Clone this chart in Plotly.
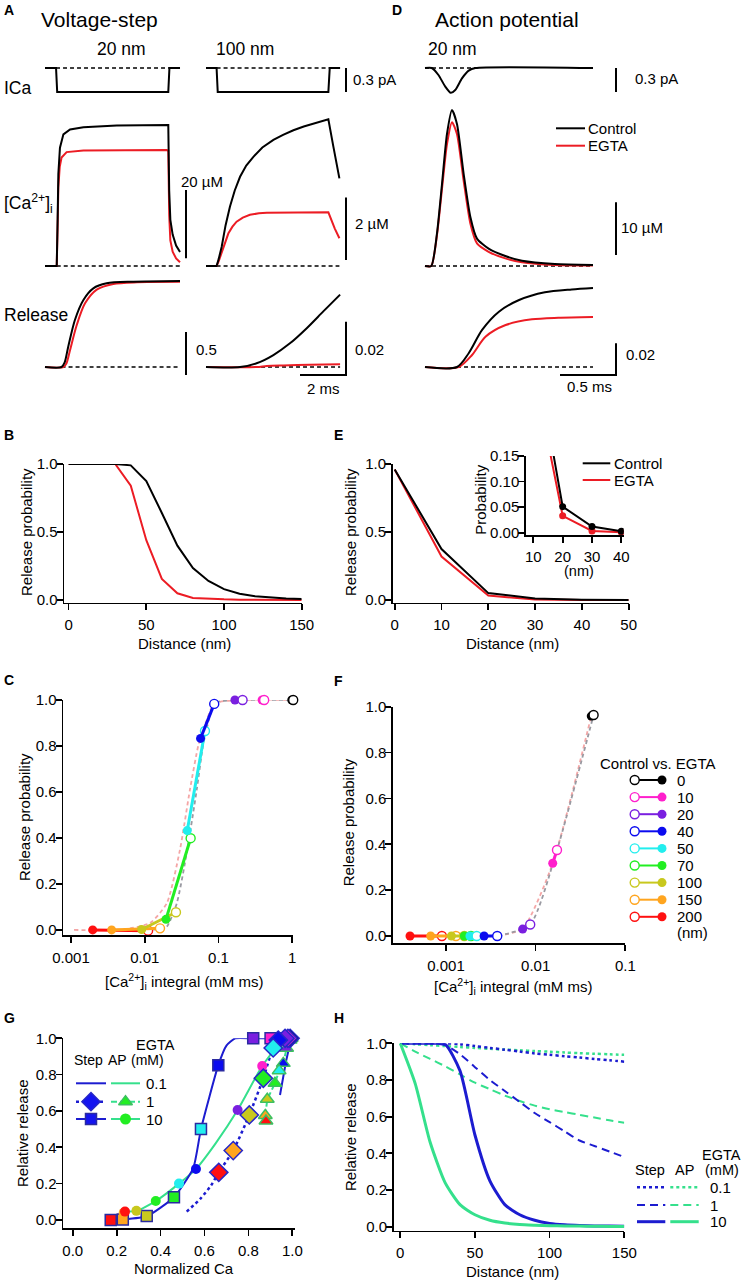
import plotly.graph_objects as go

W, H = 744, 1282
FONT = "Liberation Sans, Arial, Helvetica, sans-serif"
RED = "#ec1c24"
BLUE = "#1c1cd0"
MINT = "#35e08c"

# ===================== DATA =====================
# Panel A (voltage step): ICa (pA), [Ca2+]i (uM), release vs time (ms)
a20_t_ica = [0, 0.48, 0.53, 5.36, 5.41, 5.87]
a20_ica = [0, 0, -0.3, -0.3, 0, 0]
a20_t_ca_ctrl = [0, 0.51, 0.55, 0.58, 0.65, 0.80, 1.09, 1.67, 3.12, 5.29, 5.36, 5.40, 5.45, 5.55, 5.70, 5.87]
a20_ca_ctrl = [0, 0, 14.0, 26.9, 34.6, 38.5, 39.9, 40.6, 41.1, 41.4, 41.2, 22.0, 13.5, 9.2, 6.0, 4.1]
a20_t_ca_egta = [0, 0.51, 0.55, 0.58, 0.64, 0.72, 0.94, 1.67, 5.29, 5.36, 5.40, 5.45, 5.55, 5.70, 5.87]
a20_ca_egta = [0, 0, 12.0, 23.0, 29.0, 31.7, 33.3, 33.8, 33.9, 33.7, 15.0, 7.5, 4.2, 2.2, 1.1]
a20_t_rel_ctrl = [0, 0.72, 0.85, 1.01, 1.30, 1.67, 2.10, 2.68, 3.84, 5.87]
a20_rel_ctrl = [0, 0, 0.05, 0.236, 0.547, 0.78, 0.915, 0.973, 0.992, 1.0]
a20_t_rel_egta = [0, 0.80, 0.93, 1.09, 1.38, 1.74, 2.25, 2.97, 4.00, 5.87]
a20_rel_egta = [0, 0, 0.04, 0.198, 0.488, 0.74, 0.90, 0.965, 0.985, 0.99]

a100_t_ica = [0, 0.46, 0.51, 5.32, 5.38, 5.83]
a100_ica = [0, 0, -0.3, -0.3, 0, 0]
a100_t_ca_ctrl = [0, 0.46, 0.55, 0.68, 0.85, 1.04, 1.25, 1.48, 1.75, 2.06, 2.45, 2.93, 3.35, 3.80, 4.25, 4.67, 5.00, 5.32, 5.54, 5.80]
a100_ca_ctrl = [0, 0, 0.22, 0.61, 1.30, 1.90, 2.42, 2.86, 3.22, 3.50, 3.80, 4.04, 4.20, 4.35, 4.47, 4.57, 4.64, 4.70, 3.82, 2.81]
a100_t_ca_egta = [0, 0.46, 0.55, 0.68, 0.82, 0.97, 1.15, 1.33, 1.60, 1.91, 2.30, 2.64, 5.32, 5.39, 5.60, 5.80]
a100_ca_egta = [0, 0, 0.15, 0.41, 0.74, 1.04, 1.26, 1.42, 1.55, 1.64, 1.69, 1.71, 1.72, 1.58, 1.20, 0.89]
a100_t_rel_ctrl = [0, 1.48, 2.20, 2.93, 3.65, 4.38, 5.10, 5.83]
a100_rel_ctrl = [0, 0, 0.0014, 0.0045, 0.0089, 0.0146, 0.0209, 0.0272]
a100_t_rel_egta = [0, 2.20, 2.64, 3.36, 4.50, 5.83]
a100_rel_egta = [0, 0, 0.0004, 0.0006, 0.0008, 0.0010]

# Panel D (action potential), 20 nm
d_t_ica = [0, 0.06, 0.12, 0.18, 0.23, 0.27, 0.33, 0.39, 0.45, 1.5]
d_ica = [0, 0, -0.0875, -0.23, -0.31, -0.275, -0.13, -0.033, 0, 0]
d_t_ca = [0, 0.056, 0.107, 0.152, 0.196, 0.241, 0.286, 0.345, 0.405, 0.464, 0.568, 0.717, 0.866, 1.16, 1.5]
d_ca_ctrl = [0, 0, 6.2, 15.6, 25.0, 29.6, 26.9, 17.5, 9.3, 5.2, 3.3, 1.9, 1.0, 0.38, 0.19]
d_ca_egta = [0, 0, 5.85, 14.7, 23.1, 27.3, 25.0, 16.2, 8.05, 4.28, 2.7, 1.45, 0.7, 0.19, 0.10]
d_t_rel_ctrl = [0, 0.286, 0.39, 0.51, 0.66, 0.84, 1.07, 1.31, 1.5]
d_rel_ctrl = [0, 0, 0.0087, 0.0234, 0.0349, 0.0423, 0.0472, 0.0490, 0.0499]
d_t_rel_egta = [0, 0.30, 0.42, 0.54, 0.72, 0.955, 1.19, 1.5]
d_rel_egta = [0, 0, 0.0076, 0.0191, 0.0265, 0.0301, 0.0311, 0.0316]

# Scale bar values
sb_ica = 0.3       # pA
sb_ca20 = 20       # uM
sb_ca100 = 2       # uM
sb_cad = 10        # uM
sb_rel20 = 0.5
sb_rel100 = 0.02
sb_reld = 0.02
sb_time_a = 2      # ms
sb_time_d = 0.5    # ms

# Panel B: release probability vs distance (voltage step)
b_dist = [0, 10, 20, 30, 40, 50, 60, 70, 80, 90, 100, 110, 120, 130, 140, 150]
b_ctrl = [1.0, 1.0, 1.0, 1.0, 0.99, 0.875, 0.64, 0.40, 0.235, 0.14, 0.08, 0.047, 0.028, 0.017, 0.011, 0.007]
b_egta = [1.0, 1.0, 1.0, 1.0, 0.84, 0.44, 0.155, 0.05, 0.015, 0.008, 0.005, 0.003, 0.002, 0.001, 0.001, 0.001]

# Panel E: release probability vs distance (AP)
e_dist = [0, 10, 20, 30, 40, 50]
e_ctrl = [0.96, 0.375, 0.051, 0.012, 0.003, 0.001]
e_egta = [0.96, 0.32, 0.033, 0.0035, 0.001, 0.0005]

# Panels C, F: distance categories
dist_labels = ["0", "10", "20", "40", "50", "70", "100", "150", "200"]
dist_colors = ["#000000", "#ff1fcc", "#7a1fe0", "#0b0bef", "#22eeee", "#22ee22", "#c8c81e", "#ffa51f", "#ff1010"]

c_ctrl_x = [1.03, 0.416, 0.212, 0.0875, 0.0655, 0.0419, 0.0265, 0.0161, 0.0111]
c_ctrl_y = [1.0, 1.0, 1.0, 0.983, 0.865, 0.399, 0.077, 0.007, -0.003]
c_egta_x = [0.985, 0.39, 0.167, 0.0571, 0.0377, 0.0194, 0.00908, 0.00356, 0.00197]
c_egta_y = [1.0, 1.0, 1.0, 0.833, 0.432, 0.046, 0.002, 0.0, 0.0]
c_fit_ctrl_x = [0.0105, 0.0165, 0.0199, 0.0272, 0.037, 0.0507, 0.0624, 0.081, 0.095, 1.03]
c_fit_ctrl_y = [0.0, 0.004, 0.014, 0.116, 0.333, 0.61, 0.81, 0.957, 0.99, 1.0]
c_fit_egta_x = [0.0011, 0.005, 0.0118, 0.0199, 0.030, 0.041, 0.054, 0.069, 0.089, 1.0]
c_fit_egta_y = [0.0, 0.002, 0.03, 0.116, 0.348, 0.61, 0.81, 0.91, 0.985, 1.0]

f_ctrl_x = [0.0443, 0.0173, 0.0087, 0.00373, 0.0022, 0.0019, 0.0016, 0.00129, 0.0009]
f_ctrl_y = [0.964, 0.375, 0.05, 0.0, 0.0, 0.0, 0.0, 0.0, 0.0]
f_egta_x = [0.0417, 0.0155, 0.00716, 0.00266, 0.00185, 0.0016, 0.00115, 0.000675, 0.000397]
f_egta_y = [0.959, 0.317, 0.03, 0.0, 0.0, 0.0, 0.0, 0.0, 0.0]
f_fit_ctrl_x = [0.0038, 0.0087, 0.0173, 0.0443]
f_fit_ctrl_y = [0.0, 0.05, 0.375, 0.964]
f_fit_egta_x = [0.0038, 0.0072, 0.0155, 0.0417]
f_fit_egta_y = [0.0, 0.033, 0.317, 0.959]

# Panel G: relative release vs normalized Ca (markers ordered as dist_labels)
g_step10_x = [0.96, 0.901, 0.822, 0.663, 0.584, 0.461, 0.337, 0.228, 0.173]
g_step10_y = [1.0, 1.0, 1.0, 0.852, 0.50, 0.125, 0.022, 0.003, 0.0]
g_step1_x = [0.99, 0.98, 0.967, 0.936, 0.913, 0.868, 0.804, 0.731, 0.665]
g_step1_y = [1.0, 1.0, 1.0, 0.99, 0.947, 0.78, 0.578, 0.382, 0.262]
g_ap10_x = [0.98, 0.863, 0.751, 0.561, 0.484, 0.378, 0.29, 0.232, 0.238]
g_ap10_y = [1.0, 0.847, 0.605, 0.28, 0.20, 0.104, 0.05, 0.04, 0.046]
g_ap1_x = [0.995, 0.99, 0.974, 0.959, 0.94, 0.921, 0.886, 0.877, 0.88]
g_ap1_y = [1.0, 0.99, 0.945, 0.862, 0.822, 0.752, 0.664, 0.575, 0.545]
g_step10_fit_x = [0.17, 0.23, 0.34, 0.461, 0.549, 0.584, 0.663, 0.70, 0.74, 0.82, 0.90, 0.96]
g_step10_fit_y = [0.0, 0.003, 0.022, 0.125, 0.285, 0.50, 0.852, 0.96, 1.0, 1.0, 1.0, 1.0]
g_step1_fit_x = [0.519, 0.58, 0.63, 0.665, 0.731, 0.804, 0.868, 0.913, 0.95]
g_step1_fit_y = [0.046, 0.115, 0.19, 0.262, 0.382, 0.578, 0.78, 0.947, 1.0]
g_step01_fit_x = [0.944, 0.971, 0.995]
g_step01_fit_y = [0.688, 0.871, 1.0]
g_ap10_fit_x = [0.238, 0.29, 0.378, 0.484, 0.561, 0.65, 0.751, 0.863, 0.93, 0.98]
g_ap10_fit_y = [0.046, 0.05, 0.104, 0.20, 0.28, 0.42, 0.605, 0.847, 0.95, 1.0]
g_ap1_fit_x = [0.877, 0.886, 0.921, 0.94, 0.959, 0.974, 0.995]
g_ap1_fit_y = [0.575, 0.664, 0.752, 0.822, 0.862, 0.945, 1.0]
g_ap01_fit_x = [0.965, 0.985, 1.0]
g_ap01_fit_y = [0.93, 0.975, 1.0]
egta_levels = ["0.1", "1", "10"]

# Panel H: relative release vs distance
h_dist = [0, 10, 20, 30, 40, 50, 60, 70, 80, 90, 100, 110, 120, 130, 140, 150]
h_step10 = [1, 1, 1, 0.995, 0.85, 0.50, 0.25, 0.12, 0.065, 0.035, 0.018, 0.010, 0.006, 0.004, 0.003, 0.002]
h_ap10 = [1, 0.78, 0.46, 0.24, 0.12, 0.065, 0.035, 0.02, 0.012, 0.008, 0.005, 0.004, 0.003, 0.002, 0.0015, 0.001]
h_step1 = [1, 1, 1, 0.99, 0.94, 0.87, 0.80, 0.74, 0.68, 0.62, 0.57, 0.52, 0.47, 0.44, 0.41, 0.38]
h_ap1 = [1, 0.955, 0.915, 0.875, 0.83, 0.785, 0.75, 0.715, 0.685, 0.66, 0.64, 0.625, 0.61, 0.595, 0.58, 0.567]
h_step01 = [1, 1, 1, 1, 0.995, 0.985, 0.975, 0.965, 0.955, 0.945, 0.937, 0.93, 0.922, 0.915, 0.907, 0.90]
h_ap01 = [1, 0.995, 0.99, 0.985, 0.98, 0.975, 0.97, 0.966, 0.962, 0.958, 0.954, 0.95, 0.946, 0.943, 0.94, 0.937]

# ===================== HELPERS =====================
def xdom(l, r):
    return [l / W, r / W]

def ydom(t, b):
    return [1 - b / H, 1 - t / H]

def T(text, x, y, size=15, xa="left", ya="middle", angle=0, bold=False):
    if bold:
        text = "<b>" + text + "</b>"
    return dict(text=text, x=x / W, y=1 - y / H, xref="paper", yref="paper",
                xanchor=xa, yanchor=ya, showarrow=False, textangle=angle,
                font=dict(size=size, family=FONT, color="black"))

fig = go.Figure()
layout = {}
annotations = []

def add(x, y, xa, ya, color="black", width=2, dash=None, mode="lines", shape="linear",
        marker=None, clip=True, smoothing=0.8):
    line = dict(color=color, width=width, shape=shape)
    if shape == "spline":
        line["smoothing"] = smoothing
    if dash:
        line["dash"] = dash
    kw = dict(x=x, y=y, xaxis=xa, yaxis=ya, mode=mode, line=line, hoverinfo="skip",
              showlegend=False, cliponaxis=clip)
    if marker is not None:
        kw["marker"] = marker
    fig.add_trace(go.Scatter(**kw))

# ---------- trace axes (panels A and D) ----------
cols = {
    "a20": dict(xn=1, t0=45, ppx=23, l=40, r=200),
    "a100": dict(xn=2, t0=206, ppx=23, l=200, r=360),
    "d": dict(xn=3, t0=425, ppx=112, l=420, r=640),
}
rows = {"ica": (55, 100, 68), "ca": (100, 275, 266), "rel": (272, 385, 367)}
ppu = {
    ("a20", "ica"): 80, ("a20", "ca"): 3.42, ("a20", "rel"): 86,
    ("a100", "ica"): 80, ("a100", "ca"): 31.2, ("a100", "rel"): 2660,
    ("d", "ica"): 80, ("d", "ca"): 5.27, ("d", "rel"): 1583,
}
yid = {}
n = 0
for ck, c in cols.items():
    xname = "xaxis" if c["xn"] == 1 else "xaxis%d" % c["xn"]
    for rk, (top, bot, base) in rows.items():
        n += 1
        yid[(ck, rk)] = n
        p = ppu[(ck, rk)]
        yname = "yaxis" if n == 1 else "yaxis%d" % n
        layout[yname] = dict(domain=ydom(top, bot), range=[(base - bot) / p, (base - top) / p],
                             visible=False, anchor="x" if c["xn"] == 1 else "x%d" % c["xn"],
                             fixedrange=True)
    layout[xname] = dict(domain=xdom(c["l"], c["r"]),
                         range=[(c["l"] - c["t0"]) / c["ppx"], (c["r"] - c["t0"]) / c["ppx"]],
                         visible=False, anchor="y%d" % n, fixedrange=True)

def ax(ck, rk):
    xa = "x" if cols[ck]["xn"] == 1 else "x%d" % cols[ck]["xn"]
    i = yid[(ck, rk)]
    ya = "y" if i == 1 else "y%d" % i
    return xa, ya

def tpx(ck, px):
    c = cols[ck]
    return (px - c["t0"]) / c["ppx"]

def vpx(ck, rk, py):
    return (rows[rk][2] - py) / ppu[(ck, rk)]

DASHB = "4px,3px"
# A 20 nm
xa, ya = ax("a20", "ica")
add([a20_t_ica[1], a20_t_ica[-1]], [0, 0], xa, ya, width=1.5, dash=DASHB)
add(a20_t_ica, a20_ica, xa, ya)
xa, ya = ax("a20", "ca")
add([a20_t_ca_ctrl[1], a20_t_ca_ctrl[-1]], [0, 0], xa, ya, width=1.5, dash=DASHB)
add(a20_t_ca_egta, a20_ca_egta, xa, ya, color=RED)
add(a20_t_ca_ctrl, a20_ca_ctrl, xa, ya)
b0 = vpx("a20", "ca", 258.3)
add([tpx("a20", 186)] * 2, [b0, b0 + sb_ca20], xa, ya)
xa, ya = ax("a20", "rel")
add([a20_t_rel_ctrl[1], a20_t_rel_ctrl[-1]], [0, 0], xa, ya, width=1.5, dash=DASHB)
add(a20_t_rel_egta, a20_rel_egta, xa, ya, color=RED, shape="spline")
add(a20_t_rel_ctrl, a20_rel_ctrl, xa, ya, shape="spline")
b0 = vpx("a20", "rel", 375)
add([tpx("a20", 186)] * 2, [b0, b0 + sb_rel20], xa, ya)

# A 100 nm
xa, ya = ax("a100", "ica")
add([a100_t_ica[1], a100_t_ica[-1]], [0, 0], xa, ya, width=1.5, dash=DASHB)
add(a100_t_ica, a100_ica, xa, ya)
add([tpx("a100", 346)] * 2, [-sb_ica, 0], xa, ya)
xa, ya = ax("a100", "ca")
add([a100_t_ca_ctrl[1], a100_t_ca_ctrl[-1]], [0, 0], xa, ya, width=1.5, dash=DASHB)
add(a100_t_ca_egta, a100_ca_egta, xa, ya, color=RED)
add(a100_t_ca_ctrl, a100_ca_ctrl, xa, ya)
b0 = vpx("a100", "ca", 260)
add([tpx("a100", 346)] * 2, [b0, b0 + sb_ca100], xa, ya)
xa, ya = ax("a100", "rel")
add([a100_t_rel_ctrl[1], a100_t_rel_ctrl[-1]], [0, 0], xa, ya, width=1.5, dash=DASHB)
add(a100_t_rel_egta, a100_rel_egta, xa, ya, color=RED, shape="spline")
add(a100_t_rel_ctrl, a100_rel_ctrl, xa, ya, shape="spline")
b0 = vpx("a100", "rel", 375)
tb = tpx("a100", 346)
add([tb - sb_time_a, tb, tb], [b0, b0, b0 + sb_rel100], xa, ya)

# D 20 nm AP
xa, ya = ax("d", "ica")
add([d_t_ica[0], d_t_ica[-2]], [0, 0], xa, ya, width=1.5, dash=DASHB)
add(d_t_ica, d_ica, xa, ya, shape="spline", smoothing=0.6)
add([tpx("d", 616)] * 2, [-sb_ica, 0], xa, ya)
xa, ya = ax("d", "ca")
add([d_t_ca[0], d_t_ca[-1]], [0, 0], xa, ya, width=1.5, dash=DASHB)
add(d_t_ca, d_ca_egta, xa, ya, color=RED, shape="spline", smoothing=0.6)
add(d_t_ca, d_ca_ctrl, xa, ya, shape="spline", smoothing=0.6)
b0 = vpx("d", "ca", 255)
add([tpx("d", 616)] * 2, [b0, b0 + sb_cad], xa, ya)
xa, ya = ax("d", "rel")
add([d_t_rel_ctrl[1], d_t_rel_ctrl[-1]], [0, 0], xa, ya, width=1.5, dash=DASHB)
add(d_t_rel_egta, d_rel_egta, xa, ya, color=RED, shape="spline")
add(d_t_rel_ctrl, d_rel_ctrl, xa, ya, shape="spline")
b0 = vpx("d", "rel", 375)
tb = tpx("d", 616)
add([tb - sb_time_d, tb, tb], [b0, b0, b0 + sb_reld], xa, ya)

# ---------- visible axes ----------
def vaxis(dom, rng, anchor, tickvals, ticktext=None, typ="linear", size=15, standoff=2):
    d = dict(domain=dom, range=rng, anchor=anchor, showline=True, linecolor="black",
             linewidth=1.7, ticks="outside", ticklen=6, tickwidth=1.7, tickcolor="black",
             showgrid=False, zeroline=False, tickvals=tickvals, type=typ,
             tickfont=dict(size=size, family=FONT, color="black"), fixedrange=True,
             ticklabelstandoff=standoff, automargin=False)
    if ticktext is not None:
        d["ticktext"] = ticktext
    return d

def fmt(vals, f):
    return [f % v for v in vals]

yt01 = [0.0, 0.2, 0.4, 0.6, 0.8, 1.0]
YSO = -4

# B: x4 / y10
layout["xaxis4"] = vaxis(xdom(64.3, 301.7), [-2.78, 150], "y10", [0, 50, 100, 150])
layout["yaxis10"] = vaxis(ydom(464, 602.5), [-0.018, 1.0], "x4", [0, 0.5, 1.0], fmt([0, 0.5, 1.0], "%.1f"), standoff=YSO)
add(b_dist, b_egta, "x4", "y10", color=RED)
add(b_dist, b_ctrl, "x4", "y10")

# E: x5 / y11
layout["xaxis5"] = vaxis(xdom(392.7, 628.7), [-0.43, 50], "y11", [0, 10, 20, 30, 40, 50])
layout["yaxis11"] = vaxis(ydom(464, 602.5), [-0.018, 1.0], "x5", [0, 0.5, 1.0], fmt([0, 0.5, 1.0], "%.1f"), standoff=YSO)
add(e_dist, e_egta, "x5", "y11", color=RED)
add(e_dist, e_ctrl, "x5", "y11")

# E inset: x6 / y12
layout["xaxis6"] = vaxis(xdom(526, 623.7), [7.5, 40.8], "y12", [10, 20, 30, 40], size=15, standoff=1)
layout["yaxis12"] = vaxis(ydom(456, 535.3), [-0.005, 0.15], "x6", [0, 0.05, 0.10, 0.15],
                          fmt([0, 0.05, 0.10, 0.15], "%.2f"), size=15, standoff=YSO)
add(e_dist, e_egta, "x6", "y12", color=RED, mode="lines+markers", marker=dict(size=7, color=RED))
add(e_dist, e_ctrl, "x6", "y12", mode="lines+markers", marker=dict(size=7, color="black"))

# C: x7 / y13 (log)
layout["xaxis7"] = vaxis(xdom(63.3, 293.3), [-3.104, 0.014], "y13", [0.001, 0.01, 0.1, 1],
                         ["0.001", "0.01", "0.1", "1"], typ="log")
layout["yaxis13"] = vaxis(ydom(700, 935), [-0.022, 1.0], "x7", yt01, fmt(yt01, "%.1f"), standoff=YSO)
add(c_fit_egta_x, c_fit_egta_y, "x7", "y13", color="#f4a6a6", width=1.8, dash="4px,3px", shape="spline", smoothing=0.6)
add(c_fit_ctrl_x, c_fit_ctrl_y, "x7", "y13", color="#9a9aa2", width=1.8, dash="4px,3px", shape="spline", smoothing=0.6)
for i in reversed(range(len(dist_labels))):
    col = dist_colors[i]
    add([c_egta_x[i], c_ctrl_x[i]], [c_egta_y[i], c_ctrl_y[i]], "x7", "y13", color=col, width=3)
    add([c_egta_x[i]], [c_egta_y[i]], "x7", "y13", mode="markers", clip=False,
        marker=dict(size=9, color=col, line=dict(width=0)))
    add([c_ctrl_x[i]], [c_ctrl_y[i]], "x7", "y13", mode="markers", clip=False,
        marker=dict(size=9, color="white", line=dict(color=col, width=1.4)))

# F: x8 / y14 (log)
layout["xaxis8"] = vaxis(xdom(393, 625.3), [-3.591, -1.0], "y14", [0.001, 0.01, 0.1],
                         ["0.001", "0.01", "0.1"], typ="log")
layout["yaxis14"] = vaxis(ydom(706.7, 943.3), [-0.032, 1.0], "x8", yt01, fmt(yt01, "%.1f"), standoff=YSO)
add(f_fit_egta_x, f_fit_egta_y, "x8", "y14", color="#f4a6a6", width=1.8, dash="4px,3px", shape="spline", smoothing=0.6)
add(f_fit_ctrl_x, f_fit_ctrl_y, "x8", "y14", color="#9a9aa2", width=1.8, dash="4px,3px", shape="spline", smoothing=0.6)
for i in reversed(range(len(dist_labels))):
    col = dist_colors[i]
    add([f_egta_x[i], f_ctrl_x[i]], [f_egta_y[i], f_ctrl_y[i]], "x8", "y14", color=col, width=3)
    add([f_egta_x[i]], [f_egta_y[i]], "x8", "y14", mode="markers", clip=False,
        marker=dict(size=9, color=col, line=dict(width=0)))
    add([f_ctrl_x[i]], [f_ctrl_y[i]], "x8", "y14", mode="markers", clip=False,
        marker=dict(size=9, color="white", line=dict(color=col, width=1.4)))

# G: x9 / y15
layout["xaxis9"] = vaxis(xdom(63.3, 294.5), [-0.043, 1.01], "y15", yt01, fmt(yt01, "%.1f"))
layout["yaxis15"] = vaxis(ydom(1038.3, 1228.3), [-0.046, 1.0], "x9", yt01, fmt(yt01, "%.1f"), standoff=YSO)
add(g_ap01_fit_x, g_ap01_fit_y, "x9", "y15", color=MINT, width=2)
add(g_step01_fit_x, g_step01_fit_y, "x9", "y15", color=BLUE, width=2)
add(g_ap1_fit_x, g_ap1_fit_y, "x9", "y15", color=MINT, width=2, dash="6px,3px")
add(g_step1_fit_x, g_step1_fit_y, "x9", "y15", color=BLUE, width=2.5, dash="3px,3px", shape="spline", smoothing=0.6)
add(g_ap10_fit_x, g_ap10_fit_y, "x9", "y15", color=MINT, width=2, shape="spline", smoothing=0.6)
add(g_step10_fit_x, g_step10_fit_y, "x9", "y15", color=BLUE, width=2, shape="spline", smoothing=0.5)
add(g_step10_x, g_step10_y, "x9", "y15", mode="markers", clip=False,
    marker=dict(symbol="square", size=11, color=dist_colors, line=dict(color="#2a2aa0", width=1.5)))
add(g_ap10_x, g_ap10_y, "x9", "y15", mode="markers", clip=False,
    marker=dict(symbol="circle", size=10, color=dist_colors, line=dict(width=0)))
add(g_ap1_x, g_ap1_y, "x9", "y15", mode="markers", clip=False,
    marker=dict(symbol="triangle-up", size=12, color=dist_colors, line=dict(color="#3cc060", width=1.5)))
add(g_step1_x, g_step1_y, "x9", "y15", mode="markers", clip=False,
    marker=dict(symbol="diamond", size=14, color=dist_colors, line=dict(color="#2626c8", width=1.5)))

# H: x10 / y16
layout["xaxis10"] = vaxis(xdom(393.7, 624.3), [-4.4, 150], "y16", [0, 50, 100, 150])
layout["yaxis16"] = vaxis(ydom(1043.3, 1230.7), [-0.022, 1.0], "x10", yt01, fmt(yt01, "%.1f"), standoff=YSO)
add(h_dist, h_ap01, "x10", "y16", color=MINT, width=2.5, dash="3px,3px", shape="spline")
add(h_dist, h_step01, "x10", "y16", color=BLUE, width=2.5, dash="3px,3px", shape="spline")
add(h_dist, h_ap1, "x10", "y16", color=MINT, width=2, dash="8px,5px", shape="spline")
add(h_dist, h_step1, "x10", "y16", color=BLUE, width=2, dash="8px,5px", shape="spline")
add(h_dist, h_step10, "x10", "y16", color=BLUE, width=3, shape="spline", smoothing=0.6)
add(h_dist, h_ap10, "x10", "y16", color=MINT, width=3, shape="spline", smoothing=0.6)

# ---------- overlay axes for legends (pixel space) ----------
layout["xaxis11"] = dict(domain=[0, 1], range=[0, W], visible=False, anchor="y17", fixedrange=True)
layout["yaxis17"] = dict(domain=[0, 1], range=[H, 0], visible=False, anchor="x11", fixedrange=True)
OV = ("x11", "y17")

def ovl(x0, x1, y, color, width=2, dash=None):
    add([x0, x1], [y, y], OV[0], OV[1], color=color, width=width, dash=dash, clip=False)

def ovm(x, y, **m):
    add([x], [y], OV[0], OV[1], mode="markers", clip=False, marker=m)

# D legend
ovl(556, 585, 128.3, "black")
ovl(556, 585, 145.7, RED)
annotations += [T("Control", 585.5, 128.3), T("EGTA", 585.5, 145.7)]
# E inset legend
ovl(582.7, 610.3, 463.3, "black")
ovl(582.7, 610.3, 480, RED)
annotations += [T("Control", 611.5, 463.3), T("EGTA", 611.5, 480)]

# F legend
annotations.append(T("Control vs. EGTA", 658, 763, xa="center"))
for i, lab in enumerate(dist_labels):
    yy = 780 + 17.1 * i
    col = dist_colors[i]
    ovl(634.7, 662, yy, col, width=2)
    ovm(634.7, yy, size=9, color="white", line=dict(color=col, width=1.4))
    ovm(662, yy, size=9, color=col, line=dict(width=0))
    annotations.append(T(lab, 675, yy))
annotations.append(T("(nm)", 675, 932.7))

# G legend
annotations += [T("EGTA", 155, 1045, xa="center", size=14.5), T("Step", 88.3, 1059.5, xa="center", size=14),
                T("AP", 117, 1059.5, xa="center", size=14), T("(mM)", 147, 1059.5, xa="center", size=14)]
g_leg = [
    (None, None, None, None),
    ("3px,3px", "6px,3px", "diamond", "triangle-up"),
    (None, None, "square", "circle"),
]
for i, lab in enumerate(egta_levels):
    yy = 1083.3 + [0, 18.4, 35.7][i]
    sd, ad, sm, am = g_leg[i]
    ovl(76, 106, yy, BLUE, width=2.5 if sd == "3px,3px" else 2, dash=sd)
    ovl(111, 140, yy, MINT, width=2, dash=ad)
    if sm == "diamond":
        ovm(91, yy, symbol="diamond", size=14, color="#1414f0", line=dict(color="#2626c8", width=1.5))
        ovm(125.5, yy, symbol="triangle-up", size=12, color="#22ee22", line=dict(color="#3cc060", width=1.5))
    elif sm == "square":
        ovm(91, yy, symbol="square", size=11, color="#1414f0", line=dict(color="#2a2aa0", width=1.5))
        ovm(125.5, yy, symbol="circle", size=11, color="#22ee22", line=dict(width=0))
    annotations.append(T(lab, 143.5, yy))

# H legend
annotations += [T("EGTA", 743, 1155, xa="right", size=14.5), T("Step", 650.3, 1170, xa="center", size=14.5),
                T("AP", 684, 1170, xa="center", size=14.5), T("(mM)", 722, 1170, xa="center", size=14.5)]
h_leg = [("3px,3px", 2.5), ("8px,5px", 2), (None, 3)]
for i, lab in enumerate(egta_levels):
    yy = [1187.3, 1205, 1221.7][i]
    dsh, wd = h_leg[i]
    ovl(637, 665.3, yy, BLUE, width=wd, dash=dsh)
    ovl(670.3, 698.7, yy, MINT, width=wd, dash=dsh)
    annotations.append(T(lab, 708, yy))

# ---------- text ----------
CA = "[Ca<sup>2+</sup>]<sub>i</sub>"
annotations += [
    T("A", 9, 10, size=14, xa="center", bold=True),
    T("D", 397, 10, size=14, xa="center", bold=True),
    T("B", 8.5, 435, size=14, xa="center", bold=True),
    T("E", 338.5, 435, size=14, xa="center", bold=True),
    T("C", 8.5, 680, size=14, xa="center", bold=True),
    T("F", 338.5, 681, size=14, xa="center", bold=True),
    T("G", 9, 1018, size=14, xa="center", bold=True),
    T("H", 339, 1018, size=14, xa="center", bold=True),
    T("Voltage-step", 39, 20, size=21),
    T("Action potential", 432.5, 20, size=21),
    T("20 nm", 95, 49, size=17.5),
    T("100 nm", 214, 49, size=17.5),
    T("20 nm", 426, 49, size=17.5),
    T("ICa", 2, 87.5, size=17.5),
    T(CA, 2, 203, size=17.5),
    T("Release", 2, 315.5, size=17.5),
    T("0.3 pA", 351, 80),
    T("0.3 pA", 632.5, 79),
    T("20 µM", 179, 181.7),
    T("2 µM", 353, 223.3),
    T("10 µM", 618.5, 227.7),
    T("0.5", 194, 349.3),
    T("0.02", 353, 349.3),
    T("0.02", 624, 354.3),
    T("2 ms", 323.3, 388.3, xa="center"),
    T("0.5 ms", 589.5, 386.7, xa="center"),
    # axis titles
    T("Release probability", 26, 532, xa="center", angle=-90),
    T("Release probability", 350, 532, xa="center", angle=-90),
    T("Distance (nm)", 184.5, 643, xa="center"),
    T("Distance (nm)", 512.5, 643, xa="center"),
    T("Probability", 480.3, 499.5, xa="center", angle=-90),
    T("(nm)", 578.7, 570.5, xa="center", size=14.5),
    T("Release probability", 25, 817, xa="center", angle=-90),
    T("Release probability", 348.3, 822, xa="center", angle=-90),
    T(CA + " integral (mM ms)", 184, 981.7, xa="center"),
    T(CA + " integral (mM ms)", 513, 986.7, xa="center"),
    T("Relative release", 22, 1133, xa="center", angle=-90),
    T("Relative release", 350, 1137, xa="center", angle=-90),
    T("Normalized Ca", 184, 1268, xa="center"),
    T("Distance (nm)", 512.5, 1271.7, xa="center"),
]

layout.update(dict(
    width=W, height=H, autosize=False,
    margin=dict(l=0, r=0, t=0, b=0, pad=0, autoexpand=False),
    paper_bgcolor="white", plot_bgcolor="rgba(0,0,0,0)",
    showlegend=False, annotations=annotations,
    font=dict(family=FONT, size=15, color="black"),
))
fig.update_layout(**layout)
fig.write_html("out.html", config={"displayModeBar": False, "staticPlot": True},
               post_script="document.body.style.margin='0';document.body.style.padding='0';")
